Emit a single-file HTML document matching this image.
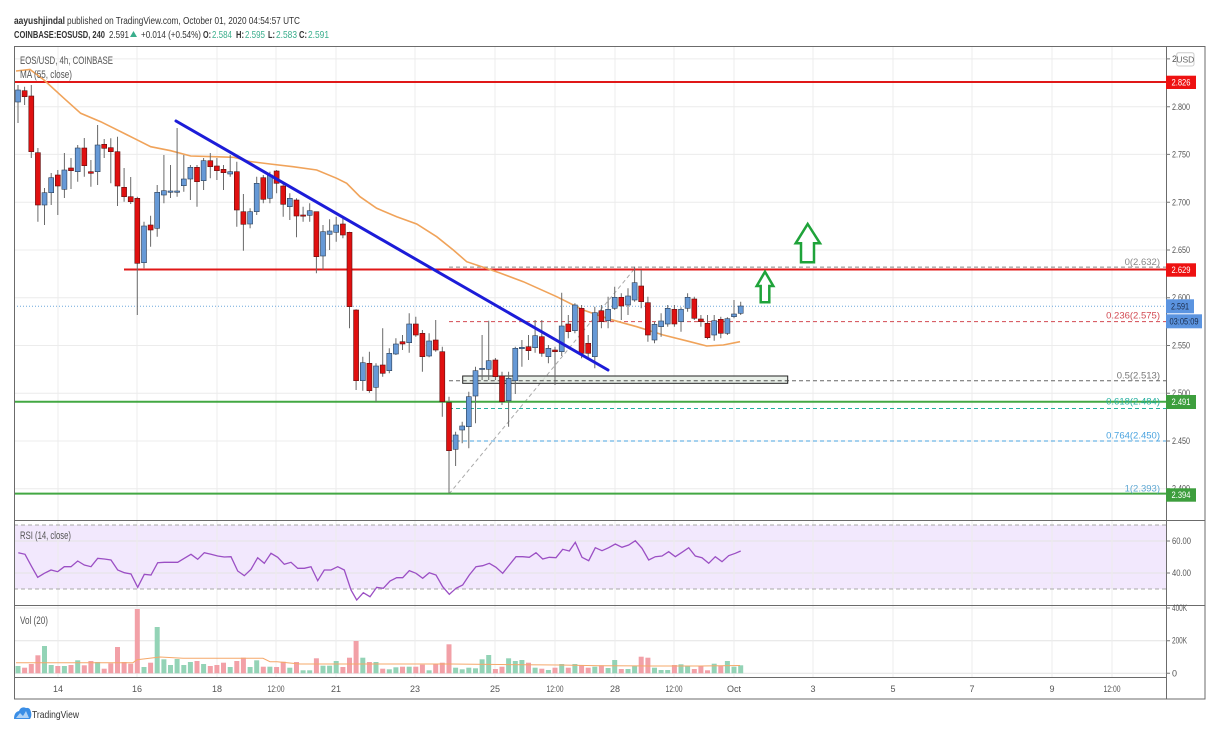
<!DOCTYPE html>
<html><head><meta charset="utf-8">
<style>
html,body{margin:0;padding:0;background:#fff;}
svg{display:block;font-family:"Liberation Sans",sans-serif;}
</style></head><body>
<svg width="1220" height="740" viewBox="0 0 1220 740" xmlns="http://www.w3.org/2000/svg">
<rect width="1220" height="740" fill="#fff"/>

<!-- header -->
<g font-size="10.5" fill="#333">
<text x="14" y="24" font-weight="bold" textLength="51" lengthAdjust="spacingAndGlyphs">aayushjindal</text>
<text x="67" y="24" textLength="233" lengthAdjust="spacingAndGlyphs">published on TradingView.com, October 01, 2020 04:54:57 UTC</text>
<text x="14" y="38" font-weight="bold" textLength="91" lengthAdjust="spacingAndGlyphs">COINBASE:EOSUSD, 240</text>
<text x="109" y="38" textLength="20" lengthAdjust="spacingAndGlyphs">2.591</text>
<polygon points="130,37 137,37 133.5,31" fill="#3aae8c"/>
<text x="141" y="38" textLength="60" lengthAdjust="spacingAndGlyphs">+0.014 (+0.54%)</text>
<text x="203" y="38" font-weight="bold" textLength="8" lengthAdjust="spacingAndGlyphs">O:</text>
<text x="212" y="38" fill="#3aae8c" textLength="20" lengthAdjust="spacingAndGlyphs">2.584</text>
<text x="236" y="38" font-weight="bold" textLength="8" lengthAdjust="spacingAndGlyphs">H:</text>
<text x="245" y="38" fill="#3aae8c" textLength="20" lengthAdjust="spacingAndGlyphs">2.595</text>
<text x="268" y="38" font-weight="bold" textLength="7" lengthAdjust="spacingAndGlyphs">L:</text>
<text x="276" y="38" fill="#3aae8c" textLength="21" lengthAdjust="spacingAndGlyphs">2.583</text>
<text x="299" y="38" font-weight="bold" textLength="8" lengthAdjust="spacingAndGlyphs">C:</text>
<text x="308" y="38" fill="#3aae8c" textLength="21" lengthAdjust="spacingAndGlyphs">2.591</text>
</g>

<!-- RSI band -->
<rect x="14" y="525" width="1152" height="64" fill="#f2e8fd"/>

<!-- grid -->
<g stroke="#ececec" stroke-width="1">
<path d="M14 58.9H1166M14 106.7H1166M14 154.4H1166M14 202.2H1166M14 250H1166M14 297.7H1166M14 345.5H1166M14 393.2H1166M14 441H1166M14 488.7H1166"/>
<path d="M14 541H1166M14 573H1166M14 608H1166M14 640.7H1166M14 673.3H1166" stroke="#e4e4e4"/>
<path d="M58 47V677M137 47V677M217 47V677M276 47V677M336 47V677M415 47V677M495 47V677M555 47V677M615 47V677M674 47V677M734 47V677M813 47V677M893 47V677M972 47V677M1052 47V677M1112 47V677"/>
</g>
<g stroke="#a8a8a8" stroke-width="1" stroke-dasharray="4,3">
<path d="M14 525H1166M14 589H1166"/>
</g>

<!-- current price dotted -->
<path d="M14 306.3H1166" stroke="#6fa8dc" stroke-width="1" stroke-dasharray="1,2"/>

<!-- fib lines -->
<g stroke-width="1" stroke-dasharray="4,3">
<path d="M449 267.1H1166" stroke="#888"/>
<path d="M449 321.6H1166" stroke="#d24a52"/>
<path d="M449 380.8H1166" stroke="#666"/>
<path d="M449 408.5H1166" stroke="#26b0a0"/>
<path d="M449 441H1166" stroke="#4aa3df"/>
<path d="M449 494H636" stroke="#999"/>
<path d="M449 494L636 267" stroke="#aaa"/>
</g>

<!-- rectangle -->
<rect x="462.7" y="376" width="325" height="7.3" fill="#e4ece4" fill-opacity="0.8" stroke="#222" stroke-width="1"/>
<path d="M462.7 380.8H787.7" stroke="#555" stroke-width="1" stroke-dasharray="4,3"/>

<!-- horizontal S/R lines -->
<path d="M14 82H1166" stroke="#e01818" stroke-width="2"/>
<path d="M124 269.5H1166" stroke="#e01818" stroke-width="2"/>
<path d="M14 401.8H1166" stroke="#43a843" stroke-width="2"/>
<path d="M14 493.6H1166" stroke="#43a843" stroke-width="2"/>

<!-- MA -->
<polyline fill="none" stroke="#f0a35a" stroke-width="1.6" points="16,71 30,69.5 44,80 64,98.3 80.7,113.3 100.7,121.7 114,128.3 134,138.3 150.7,146.7 170.7,150.7 190.7,156 214,156.7 234,157.3 250,161.5 270,164 293,166.7 316.7,170 336.7,178.3 346.7,183.3 360,196.7 376.7,208.3 396.7,216.7 416.7,224 436.7,236.7 453.3,250 466.7,261.7 483.3,267.3 500,273 523.3,281.7 556.7,296.7 583.3,310 610,319.3 636.7,326.7 663.3,335 690,341.7 706.7,346 723.3,345 740,341.7"/>

<!-- wicks -->
<path fill="none" stroke="#6a6a6a" stroke-width="1" d="M18 85V123M24.6 86.7V105M31.3 85V158M37.9 148V221.7M44.5 188V225M51.2 173V205M57.8 170V215M64.4 153V198M71 158V189M77.7 145V181.7M84.3 138V176.7M90.9 160V186.7M97.6 125V185M104.2 139V158M110.8 138.3V183.3M117.5 136.7V206M124.1 168V201.7M130.7 177V204M137.3 196.7V315M144 221.7V268.3M150.6 215.7V246.7M157.2 185V236.7M163.9 155V203.3M170.5 165V198M177.1 128V196.7M183.8 155V191.7M190.4 165V200M197 165V206.7M203.6 158V190M210.3 153V178.3M216.9 158V180M223.5 165V190M230.2 155V176.7M236.8 161.7V226.7M243.4 194V250.7M250.1 208.3V228.3M256.7 176.7V215M263.3 175V203.3M269.9 171.7V203.3M276.6 170V193.3M283.2 183.3V216.7M289.8 193.3V220M296.5 198.3V237.3M303.1 206.7V221.7M309.7 203.3V221.7M316.4 211.7V273.3M323 225V270M329.6 219.3V250M336.2 216.7V241.7M342.9 216.7V238.3M349.5 231.7V328.3M356.1 309.3V390M362.8 356.7V390.7M369.4 351.7V392.7M376 363.3V401.7M382.7 328.3V376.7M389.3 348.3V373.3M395.9 338.3V355M402.5 335V350M409.2 313.3V352.7M415.8 316.7V336.7M422.4 330V371.7M429.1 333.3V357.3M435.7 320V351.7M442.3 346.7V416.7M449 396.7V493.3M455.6 431.7V466M462.2 421.7V443.3M468.8 391.7V448.3M475.5 366.7V423.3M482.1 335V380M488.7 320.7V380M495.4 358V380M502 371.7V405M508.6 371.7V426.7M515.3 346.7V394M521.9 340V366.7M528.5 335V360M535.1 320V352.7M541.8 320V356.7M548.4 345V363.3M555 346.7V385M561.7 292.7V356M568.3 315V338.3M574.9 303.3V333.3M581.6 305V358.3M588.2 335V360M594.8 306.7V368.3M601.4 305V328.3M608.1 296.7V328.3M614.7 286.7V310M621.3 293.3V320M628 288.3V315M634.6 266.7V301.7M641.2 270V308.3M647.9 296.7V341.7M654.5 321.7V343.3M661.1 313.3V336.7M667.7 305V326.7M674.4 305V326.7M681 307.3V331.7M687.6 293.3V311.7M694.3 296.7V320M700.9 315V326.7M707.5 315V339.3M714.2 315V340.7M720.8 316.7V338.3M727.4 317.3V335M734 300V318.3M740.7 301.7V315"/>

<!-- up candles -->
<g fill="#6699d6" stroke="#2c3e55" stroke-width="0.6">
<rect x="15.5" y="90" width="5" height="12"/>
<rect x="42" y="192.7" width="5" height="12.3"/>
<rect x="48.7" y="177.7" width="5" height="15"/>
<rect x="61.9" y="170" width="5" height="19.3"/>
<rect x="75.2" y="148" width="5" height="23.7"/>
<rect x="95.1" y="145" width="5" height="26.7"/>
<rect x="141.5" y="226" width="5" height="36.7"/>
<rect x="154.7" y="192.3" width="5" height="36"/>
<rect x="161.4" y="190.7" width="5" height="4.3"/>
<rect x="168" y="191" width="5" height="1.3"/>
<rect x="174.6" y="191" width="5" height="1.3"/>
<rect x="181.3" y="179" width="5" height="6.7"/>
<rect x="187.9" y="167.3" width="5" height="11.7"/>
<rect x="201.1" y="160.7" width="5" height="20"/>
<rect x="227.7" y="171.7" width="5" height="2.3"/>
<rect x="247.6" y="211.7" width="5" height="12.3"/>
<rect x="254.2" y="183.3" width="5" height="28.4"/>
<rect x="267.4" y="175" width="5" height="23.3"/>
<rect x="287.3" y="198.3" width="5" height="8.4"/>
<rect x="307.2" y="210.7" width="5" height="4.6"/>
<rect x="320.5" y="231.7" width="5" height="24.3"/>
<rect x="327.1" y="231" width="5" height="3.3"/>
<rect x="333.7" y="225" width="5" height="7.3"/>
<rect x="360.3" y="362.7" width="5" height="18"/>
<rect x="373.5" y="366" width="5" height="21.3"/>
<rect x="386.8" y="353.3" width="5" height="17.4"/>
<rect x="393.4" y="344" width="5" height="10"/>
<rect x="406.7" y="324" width="5" height="18.7"/>
<rect x="426.6" y="341" width="5" height="15"/>
<rect x="453.1" y="435" width="5" height="14.3"/>
<rect x="459.7" y="426" width="5" height="4"/>
<rect x="466.3" y="396.7" width="5" height="30"/>
<rect x="473" y="370.7" width="5" height="25.3"/>
<rect x="479.6" y="368.3" width="5" height="1.2"/>
<rect x="486.2" y="360.7" width="5" height="8.6"/>
<rect x="506.1" y="378.3" width="5" height="22.4"/>
<rect x="512.8" y="348.3" width="5" height="32.4"/>
<rect x="519.4" y="347.3" width="5" height="1.4"/>
<rect x="532.6" y="335.7" width="5" height="12"/>
<rect x="545.9" y="348.3" width="5" height="8.4"/>
<rect x="559.2" y="326" width="5" height="25.7"/>
<rect x="572.4" y="305" width="5" height="25.7"/>
<rect x="592.3" y="312.7" width="5" height="44"/>
<rect x="605.6" y="309.3" width="5" height="11.4"/>
<rect x="612.2" y="297.3" width="5" height="11"/>
<rect x="625.5" y="296" width="5" height="9"/>
<rect x="632.1" y="282.7" width="5" height="17.3"/>
<rect x="652" y="324.3" width="5" height="15.7"/>
<rect x="658.6" y="321" width="5" height="5.7"/>
<rect x="665.2" y="308.3" width="5" height="15.7"/>
<rect x="678.5" y="309.3" width="5" height="12.4"/>
<rect x="685.1" y="297.3" width="5" height="11"/>
<rect x="711.7" y="320.7" width="5" height="14.3"/>
<rect x="724.9" y="318.7" width="5" height="14.6"/>
<rect x="731.5" y="314" width="5" height="2.7"/>
<rect x="738.2" y="306" width="5" height="7.3"/>
</g>

<!-- down candles -->
<g fill="#e01010" stroke="#5a1010" stroke-width="0.6">
<rect x="22.1" y="90.7" width="5" height="6"/>
<rect x="28.8" y="96" width="5" height="55.7"/>
<rect x="35.4" y="152.7" width="5" height="52.3"/>
<rect x="55.3" y="175" width="5" height="11"/>
<rect x="68.5" y="168" width="5" height="2.7"/>
<rect x="81.8" y="148" width="5" height="17.7"/>
<rect x="88.4" y="171.7" width="5" height="1.6"/>
<rect x="101.7" y="144.3" width="5" height="4"/>
<rect x="108.3" y="147.7" width="5" height="4"/>
<rect x="115" y="151.7" width="5" height="34.3"/>
<rect x="121.6" y="187.3" width="5" height="9.4"/>
<rect x="128.2" y="196.7" width="5" height="5"/>
<rect x="134.8" y="198.3" width="5" height="65"/>
<rect x="148.1" y="225" width="5" height="5"/>
<rect x="194.5" y="167.3" width="5" height="14.4"/>
<rect x="207.8" y="160.7" width="5" height="6"/>
<rect x="214.4" y="166" width="5" height="4.7"/>
<rect x="221" y="169.3" width="5" height="3.4"/>
<rect x="234.3" y="171.7" width="5" height="38.3"/>
<rect x="240.9" y="211.7" width="5" height="12.6"/>
<rect x="260.8" y="177.7" width="5" height="21.6"/>
<rect x="274.1" y="171" width="5" height="12.3"/>
<rect x="280.7" y="186" width="5" height="18.3"/>
<rect x="294" y="200" width="5" height="16"/>
<rect x="300.6" y="215" width="5" height="1.2"/>
<rect x="313.9" y="211.7" width="5" height="45"/>
<rect x="340.4" y="224" width="5" height="11"/>
<rect x="347" y="232.3" width="5" height="74.4"/>
<rect x="353.6" y="310" width="5" height="70.7"/>
<rect x="366.9" y="363.3" width="5" height="27.4"/>
<rect x="380.2" y="365" width="5" height="8.3"/>
<rect x="400" y="341.7" width="5" height="2.3"/>
<rect x="413.3" y="324" width="5" height="11"/>
<rect x="419.9" y="333.3" width="5" height="23.4"/>
<rect x="433.2" y="340" width="5" height="10"/>
<rect x="439.8" y="351.7" width="5" height="50"/>
<rect x="446.5" y="402.7" width="5" height="48"/>
<rect x="492.9" y="360" width="5" height="16.7"/>
<rect x="499.5" y="376" width="5" height="25.7"/>
<rect x="526" y="346.7" width="5" height="4"/>
<rect x="539.3" y="336.7" width="5" height="16.6"/>
<rect x="552.5" y="350" width="5" height="1.7"/>
<rect x="565.8" y="324" width="5" height="7.7"/>
<rect x="579.1" y="308.3" width="5" height="45"/>
<rect x="585.7" y="343.3" width="5" height="10"/>
<rect x="598.9" y="310.7" width="5" height="11"/>
<rect x="618.8" y="297.3" width="5" height="8.7"/>
<rect x="638.7" y="286" width="5" height="15.7"/>
<rect x="645.4" y="302.7" width="5" height="32.3"/>
<rect x="671.9" y="309.3" width="5" height="14.7"/>
<rect x="691.8" y="299" width="5" height="19.3"/>
<rect x="698.4" y="319" width="5" height="2.7"/>
<rect x="705" y="323.3" width="5" height="14.4"/>
<rect x="718.3" y="319.3" width="5" height="14"/>
</g>

<!-- trendline -->
<path d="M176 121L608 370" stroke="#1c1cd8" stroke-width="3" stroke-linecap="round"/>

<!-- arrows -->
<g fill="#fff" stroke="#1fa33a" stroke-width="2.5" stroke-linejoin="miter">
<polygon points="807.7,224 820,243.3 814,243.3 814,262.3 801,262.3 801,243.3 795.7,243.3"/>
<polygon points="765,271.7 773.3,286 769.3,286 769.3,302.3 760.7,302.3 760.7,286 756.7,286"/>
</g>

<!-- fib labels -->
<g font-size="9.5" text-anchor="end">
<text x="1160" y="265" fill="#888">0(2.632)</text>
<text x="1160" y="318.5" fill="#d24a52">0.236(2.575)</text>
<text x="1160" y="378.5" fill="#777">0.5(2.513)</text>
<text x="1160" y="404.5" fill="#26b0a0">0.618(2.484)</text>
<text x="1160" y="438.5" fill="#4aa3df">0.764(2.450)</text>
<text x="1160" y="491.5" fill="#5fa8d3">1(2.393)</text>
</g>

<!-- chart legends -->
<g font-size="11" fill="#555">
<text x="20" y="64" textLength="93" lengthAdjust="spacingAndGlyphs">EOS/USD, 4h, COINBASE</text>
<text x="20" y="78" textLength="52" lengthAdjust="spacingAndGlyphs">MA (55, close)</text>
<text x="20" y="539" textLength="51" lengthAdjust="spacingAndGlyphs">RSI (14, close)</text>
<text x="20" y="624" textLength="28" lengthAdjust="spacingAndGlyphs">Vol (20)</text>
</g>

<!-- RSI line -->
<polyline fill="none" stroke="#9b4fc4" stroke-width="1.3" points="18.3,552.7 25,554.3 31.7,566.7 37.7,577.3 44.3,573.3 51,570 57.7,571.7 64.3,566.7 71,566.7 77.7,561 84.3,565 91,566.7 97.7,558.3 104.3,559 111,560 117.7,570 124.3,572.7 131,574 137.7,587.3 144.3,574.3 151,575 157.7,562.7 164.3,562.3 171,562.3 177.7,562.3 184.3,558.3 191,554.3 197.7,559.3 204.3,552.7 211,554.3 217.7,556 224.3,557 231,556.7 237.7,571 244.3,575.7 251,569.3 257.7,557.7 264.3,563.3 271,553.3 277.7,557.3 284.3,564.3 291,562.3 297.7,568.3 304.3,568.3 311,566.7 317.7,580.7 324.3,570 331,570 337.7,566.7 344.3,570 351,590 356.7,600 363.3,592.7 370,596.7 376.7,587.3 383.3,588.3 390,581 396.7,577.7 402.7,577.7 409.3,570.7 416,573.3 422.7,578.3 429.3,572.7 436,575 442.7,586.7 449.3,594.3 456,588.3 462.7,585 469.3,575 476,566.7 482.7,565.7 489.3,563.3 496,567.3 502.7,573.3 509.3,565 516,556.7 522.7,556.7 529.3,557.3 536,552.7 542.7,559 549.3,557.3 556,557.7 562.7,549.3 569.3,551 575.3,542.3 582,557.3 588.7,560.7 595.3,547.7 602,550.7 608.7,547.7 615.3,544 622,547.3 628.7,545 635.3,540.7 642,548.3 648.7,560 655.3,556.7 662,556 668.7,551.7 675.3,556.7 682,552.3 688.7,547.7 695.3,556 702,557.7 708.7,563.3 715.3,556.7 722,561.7 728.7,555.7 735.3,553.3 740.7,551"/>

<!-- volume green -->
<g fill="#93d3b6">
<rect x="15.5" y="666" width="5" height="7.3"/><rect x="42" y="646" width="5" height="27.3"/><rect x="48.7" y="665" width="5" height="8.3"/><rect x="61.9" y="666" width="5" height="7.3"/><rect x="75.2" y="660.3" width="5" height="13"/><rect x="95.1" y="662" width="5" height="11.3"/><rect x="141.5" y="667" width="5" height="6.3"/><rect x="154.7" y="627" width="5" height="46.3"/><rect x="161.4" y="659.3" width="5" height="14"/><rect x="168" y="665" width="5" height="8.3"/><rect x="174.6" y="659" width="5" height="14.3"/><rect x="181.3" y="665" width="5" height="8.3"/><rect x="187.9" y="662" width="5" height="11.3"/><rect x="201.1" y="664" width="5" height="9.3"/><rect x="227.7" y="667" width="5" height="6.3"/><rect x="247.6" y="667" width="5" height="6.3"/><rect x="254.2" y="660.3" width="5" height="13"/><rect x="267.4" y="666.7" width="5" height="6.6"/><rect x="287.3" y="667.7" width="5" height="5.6"/><rect x="300.6" y="670.3" width="5" height="3"/><rect x="307.2" y="670.3" width="5" height="3"/><rect x="320.5" y="665.7" width="5" height="7.6"/><rect x="327.1" y="665.7" width="5" height="7.6"/><rect x="333.7" y="661" width="5" height="12.3"/><rect x="360.3" y="657.7" width="5" height="15.6"/><rect x="373.5" y="662" width="5" height="11.3"/><rect x="386.8" y="669.3" width="5" height="4"/><rect x="393.4" y="667.3" width="5" height="6"/><rect x="406.7" y="666.7" width="5" height="6.6"/><rect x="426.6" y="670.3" width="5" height="3"/><rect x="453.1" y="667.7" width="5" height="5.6"/><rect x="459.7" y="669.3" width="5" height="4"/><rect x="466.3" y="667.7" width="5" height="5.6"/><rect x="473" y="668.3" width="5" height="5"/><rect x="479.6" y="659.3" width="5" height="14"/><rect x="486.2" y="655" width="5" height="18.3"/><rect x="506.1" y="658.3" width="5" height="15"/><rect x="512.8" y="661" width="5" height="12.3"/><rect x="519.4" y="660" width="5" height="13.3"/><rect x="532.6" y="667.7" width="5" height="5.6"/><rect x="545.9" y="670" width="5" height="3.3"/><rect x="559.2" y="664" width="5" height="9.3"/><rect x="572.4" y="664" width="5" height="9.3"/><rect x="592.3" y="666.7" width="5" height="6.6"/><rect x="605.6" y="668" width="5" height="5.3"/><rect x="612.2" y="660" width="5" height="13.3"/><rect x="625.5" y="669" width="5" height="4.3"/><rect x="632.1" y="666" width="5" height="7.3"/><rect x="652" y="667.7" width="5" height="5.6"/><rect x="658.6" y="670" width="5" height="3.3"/><rect x="665.2" y="670" width="5" height="3.3"/><rect x="678.5" y="664.3" width="5" height="9"/><rect x="685.1" y="665.7" width="5" height="7.6"/><rect x="711.7" y="663.7" width="5" height="9.6"/><rect x="724.9" y="661" width="5" height="12.3"/><rect x="731.5" y="666.7" width="5" height="6.6"/><rect x="738.2" y="665.3" width="5" height="8"/>
</g>
<!-- volume red -->
<g fill="#f2a0a7">
<rect x="22.1" y="667.7" width="5" height="5.6"/><rect x="28.8" y="664" width="5" height="9.3"/><rect x="35.4" y="655.3" width="5" height="18"/><rect x="55.3" y="666" width="5" height="7.3"/><rect x="68.5" y="665" width="5" height="8.3"/><rect x="81.8" y="665.3" width="5" height="8"/><rect x="88.4" y="661" width="5" height="12.3"/><rect x="101.7" y="668.7" width="5" height="4.6"/><rect x="108.3" y="663.3" width="5" height="10"/><rect x="115" y="647" width="5" height="26.3"/><rect x="121.6" y="662" width="5" height="11.3"/><rect x="128.2" y="663.7" width="5" height="9.6"/><rect x="134.8" y="609" width="5" height="64.3"/><rect x="148.1" y="662.7" width="5" height="10.6"/><rect x="194.5" y="661" width="5" height="12.3"/><rect x="207.8" y="666" width="5" height="7.3"/><rect x="214.4" y="665" width="5" height="8.3"/><rect x="221" y="662.7" width="5" height="10.6"/><rect x="234.3" y="661" width="5" height="12.3"/><rect x="240.9" y="657.7" width="5" height="15.6"/><rect x="260.8" y="666.7" width="5" height="6.6"/><rect x="274.1" y="667" width="5" height="6.3"/><rect x="280.7" y="661.7" width="5" height="11.6"/><rect x="294" y="662" width="5" height="11.3"/><rect x="313.9" y="658.3" width="5" height="15"/><rect x="340.4" y="667" width="5" height="6.3"/><rect x="347" y="657.7" width="5" height="15.6"/><rect x="353.6" y="641" width="5" height="32.3"/><rect x="366.9" y="662" width="5" height="11.3"/><rect x="380.2" y="668.7" width="5" height="4.6"/><rect x="400" y="666.7" width="5" height="6.6"/><rect x="413.3" y="666.7" width="5" height="6.6"/><rect x="419.9" y="664.7" width="5" height="8.6"/><rect x="433.2" y="664" width="5" height="9.3"/><rect x="439.8" y="662.7" width="5" height="10.6"/><rect x="446.5" y="644.3" width="5" height="29"/><rect x="492.9" y="669" width="5" height="4.3"/><rect x="499.5" y="666.7" width="5" height="6.6"/><rect x="526" y="662.7" width="5" height="10.6"/><rect x="539.3" y="668.7" width="5" height="4.6"/><rect x="552.5" y="667.7" width="5" height="5.6"/><rect x="565.8" y="667.7" width="5" height="5.6"/><rect x="579.1" y="665.3" width="5" height="8"/><rect x="585.7" y="667.7" width="5" height="5.6"/><rect x="598.9" y="665.3" width="5" height="8"/><rect x="618.8" y="669" width="5" height="4.3"/><rect x="638.7" y="656.7" width="5" height="16.6"/><rect x="645.4" y="657.7" width="5" height="15.6"/><rect x="671.9" y="665" width="5" height="8.3"/><rect x="691.8" y="669" width="5" height="4.3"/><rect x="698.4" y="666" width="5" height="7.3"/><rect x="705" y="670.3" width="5" height="3"/><rect x="718.3" y="665.7" width="5" height="7.6"/>
</g>
<!-- volume MA -->
<polyline fill="none" stroke="#f5a86a" stroke-width="1" points="16,662.7 133,662.7 137,659.7 160,657 183,658.3 263,658.3 270,661.7 277,661.7 300,664 400,664 450,664 500,664.5 560,665 600,665.7 650,666 700,666 740,665.5"/>

<!-- frame & separators -->
<g stroke="#6b6b6b" stroke-width="1" fill="none">
<rect x="14.5" y="46.5" width="1190.5" height="652.5"/>
<path d="M1166.5 47V699M14 520.5H1205M14 605.5H1205M14 677.5H1166"/>
</g>

<!-- price axis -->
<g stroke="#777" stroke-width="1">
<path d="M1166 58.9H1170M1166 106.7H1170M1166 154.4H1170M1166 202.2H1170M1166 250H1170M1166 297.7H1170M1166 345.5H1170M1166 393.2H1170M1166 441H1170M1166 488.7H1170M1166 541H1170M1166 573H1170M1166 608H1170M1166 640.7H1170M1166 673.3H1170"/>
</g>
<g font-size="9" fill="#555">
<text x="1172" y="62">2</text>
<text x="1172" y="110" textLength="18" lengthAdjust="spacingAndGlyphs">2.800</text>
<text x="1172" y="157.5" textLength="18" lengthAdjust="spacingAndGlyphs">2.750</text>
<text x="1172" y="205.5" textLength="18" lengthAdjust="spacingAndGlyphs">2.700</text>
<text x="1172" y="253" textLength="18" lengthAdjust="spacingAndGlyphs">2.650</text>
<text x="1172" y="300.5" textLength="18" lengthAdjust="spacingAndGlyphs">2.600</text>
<text x="1172" y="348.5" textLength="18" lengthAdjust="spacingAndGlyphs">2.550</text>
<text x="1172" y="396" textLength="18" lengthAdjust="spacingAndGlyphs">2.500</text>
<text x="1172" y="444" textLength="18" lengthAdjust="spacingAndGlyphs">2.450</text>
<text x="1172" y="491.5" textLength="18" lengthAdjust="spacingAndGlyphs">2.400</text>
<text x="1172" y="544" textLength="19" lengthAdjust="spacingAndGlyphs">60.00</text>
<text x="1172" y="576" textLength="19" lengthAdjust="spacingAndGlyphs">40.00</text>
<text x="1172" y="611" textLength="15" lengthAdjust="spacingAndGlyphs">400K</text>
<text x="1172" y="643.7" textLength="15" lengthAdjust="spacingAndGlyphs">200K</text>
<text x="1172" y="676.3">0</text>
</g>
<rect x="1176.7" y="52.7" width="17.3" height="13.3" rx="2" fill="#fff" stroke="#ccc" stroke-width="1"/>
<text x="1185.3" y="62.5" font-size="8.5" fill="#666" text-anchor="middle">USD</text>

<!-- price tags -->
<rect x="1166" y="75.7" width="30" height="13.3" fill="#ee1111"/>
<text x="1181" y="85.5" font-size="9" fill="#fff" text-anchor="middle" textLength="19" lengthAdjust="spacingAndGlyphs">2.826</text>
<rect x="1166" y="263.3" width="30" height="13.4" fill="#ee1111"/>
<text x="1181" y="273.2" font-size="9" fill="#fff" text-anchor="middle" textLength="19" lengthAdjust="spacingAndGlyphs">2.629</text>
<rect x="1166" y="299.3" width="28" height="14" fill="#5b94e0"/>
<text x="1180" y="309.5" font-size="9" fill="#1a2a48" text-anchor="middle" textLength="18" lengthAdjust="spacingAndGlyphs">2.591</text>
<rect x="1166" y="314.3" width="36" height="14" fill="#5b94e0"/>
<text x="1184" y="324.5" font-size="9" fill="#1a2a48" text-anchor="middle" textLength="29" lengthAdjust="spacingAndGlyphs">03:05:09</text>
<rect x="1166" y="395" width="30" height="14" fill="#3d9e3d"/>
<text x="1181" y="405" font-size="9" fill="#fff" text-anchor="middle" textLength="19" lengthAdjust="spacingAndGlyphs">2.491</text>
<rect x="1166" y="488.3" width="30" height="13.4" fill="#3d9e3d"/>
<text x="1181" y="498.2" font-size="9" fill="#fff" text-anchor="middle" textLength="19" lengthAdjust="spacingAndGlyphs">2.394</text>

<!-- time axis -->
<g font-size="9" fill="#555" text-anchor="middle">
<text x="58" y="692">14</text>
<text x="137" y="692">16</text>
<text x="217" y="692">18</text>
<text x="276" y="692" textLength="17" lengthAdjust="spacingAndGlyphs">12:00</text>
<text x="336" y="692">21</text>
<text x="415" y="692">23</text>
<text x="495" y="692">25</text>
<text x="555" y="692" textLength="17" lengthAdjust="spacingAndGlyphs">12:00</text>
<text x="615" y="692">28</text>
<text x="674" y="692" textLength="17" lengthAdjust="spacingAndGlyphs">12:00</text>
<text x="734" y="692">Oct</text>
<text x="813" y="692">3</text>
<text x="893" y="692">5</text>
<text x="972" y="692">7</text>
<text x="1052" y="692">9</text>
<text x="1112" y="692" textLength="17" lengthAdjust="spacingAndGlyphs">12:00</text>
</g>

<!-- TradingView logo -->
<path d="M14 719 Q14 712 19 711 Q21 706 26 708 Q30 707 31 712 Q32 716 30 719 Z" fill="#3a8ee6"/>
<path d="M16 718 L20 713 L23 716 L26 711 L29 718 Z" fill="#fff" opacity="0.6"/>
<text x="32" y="718" font-size="10.5" fill="#333" textLength="47" lengthAdjust="spacingAndGlyphs">TradingView</text>
</svg>
</body></html>
